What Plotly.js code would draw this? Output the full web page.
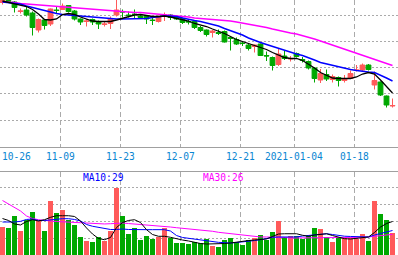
<!DOCTYPE html>
<html>
<head>
<meta charset="utf-8">
<script src="https://cdn.plot.ly/plotly-3.0.1.min.js"></script>
<style>
html,body{margin:0;padding:0;background:#fff;}
#chart{width:398px;height:255px;}
</style>
</head>
<body>
<div id="chart"></div>
<script>
// ---- data ----
const tickLabels = ['10-26','11-09','11-23','12-07','12-21','2021-01-04','01-18'];
const tickIdx = [0,10,20,30,40,49,59];

const open  = [11.95,11.99,11.96,11.77,11.80,11.74,11.40,11.60,11.52,11.80,11.81,11.89,11.78,11.62,11.57,11.61,11.57,11.51,11.53,11.70,
               11.77,11.70,11.72,11.68,11.67,11.60,11.57,11.69,11.70,11.67,11.63,11.57,11.57,11.45,11.40,11.35,11.35,11.37,11.25,11.21,
               11.14,11.10,11.07,11.12,10.89,10.85,10.71,10.88,10.82,10.93,10.81,10.77,10.64,10.40,10.51,10.41,10.45,10.39,10.43,10.59,
               10.60,10.70,10.30,10.36,10.08,9.88];
const high  = [12.04,12.02,11.98,11.83,11.88,11.77,11.63,11.62,11.83,11.88,11.93,11.90,11.80,11.63,11.62,11.63,11.59,11.57,11.67,12.02,
               11.81,11.77,11.81,11.71,11.68,11.67,11.69,11.75,11.72,11.68,11.65,11.61,11.59,11.48,11.41,11.40,11.41,11.39,11.26,11.25,
               11.17,11.12,11.11,11.13,10.97,10.87,11.03,10.98,10.88,10.95,10.86,10.79,10.65,10.62,10.61,10.51,10.47,10.50,10.59,10.70,
               10.73,10.72,10.57,10.37,10.09,10.03];
const low   = [11.91,11.94,11.75,11.73,11.67,11.29,11.35,11.41,11.48,11.73,11.80,11.75,11.59,11.50,11.47,11.50,11.42,11.47,11.42,11.67,
               11.65,11.65,11.63,11.63,11.52,11.50,11.55,11.58,11.60,11.60,11.52,11.51,11.42,11.36,11.27,11.25,11.30,11.15,10.99,11.10,
               11.08,10.99,10.95,10.88,10.78,10.59,10.68,10.80,10.77,10.85,10.75,10.61,10.35,10.34,10.38,10.35,10.27,10.35,10.42,10.57,
               10.58,10.59,10.21,10.08,9.85,9.85];
const close = [11.99,11.97,11.85,11.78,11.70,11.45,11.61,11.49,11.82,11.79,11.88,11.77,11.62,11.56,11.58,11.56,11.52,11.52,11.62,11.80,
               11.76,11.69,11.71,11.65,11.62,11.59,11.67,11.70,11.65,11.62,11.55,11.56,11.45,11.39,11.31,11.38,11.33,11.16,11.23,11.12,
               11.13,11.03,11.10,10.89,10.88,10.69,10.92,10.83,10.83,10.87,10.79,10.64,10.43,10.53,10.42,10.47,10.39,10.43,10.53,10.60,
               10.70,10.61,10.39,10.10,9.90,9.89];

const ma5  = [11.98,11.95,11.93,11.90,11.87,11.81,11.72,11.61,11.60,11.62,11.71,11.73,11.71,11.66,11.62,11.58,11.57,11.57,11.57,11.60,
              11.63,11.67,11.70,11.71,11.69,11.67,11.67,11.68,11.66,11.63,11.61,11.58,11.53,11.50,11.47,11.42,11.38,11.33,11.27,11.21,
              11.17,11.13,11.10,11.06,11.01,10.95,10.90,10.85,10.83,10.83,10.79,10.72,10.64,10.55,10.49,10.44,10.43,10.43,10.43,10.46,
              10.52,10.55,10.52,10.40,10.26,10.14];
const ma10 = [11.96,11.95,11.93,11.92,11.88,11.85,11.82,11.79,11.75,11.73,11.71,11.70,11.68,11.67,11.67,11.66,11.65,11.64,11.63,11.62,
              11.62,11.62,11.62,11.63,11.63,11.65,11.67,11.68,11.68,11.67,11.64,11.61,11.59,11.57,11.54,11.52,11.48,11.43,11.39,11.35,
              11.30,11.24,11.19,11.15,11.11,11.07,11.03,11.00,10.96,10.92,10.89,10.85,10.80,10.75,10.72,10.69,10.67,10.64,10.61,10.59,
              10.57,10.56,10.55,10.50,10.44,10.38];
const ma30 = [11.96,11.96,11.95,11.93,11.92,11.91,11.90,11.90,11.89,11.88,11.87,11.86,11.85,11.83,11.82,11.81,11.80,11.79,11.78,11.78,
              11.77,11.76,11.75,11.75,11.74,11.73,11.71,11.70,11.70,11.69,11.67,11.66,11.64,11.63,11.62,11.62,11.61,11.60,11.58,11.56,
              11.54,11.52,11.50,11.48,11.45,11.42,11.39,11.37,11.34,11.32,11.29,11.26,11.22,11.18,11.14,11.10,11.06,11.02,10.97,10.93,
              10.90,10.86,10.82,10.78,10.73,10.69];

const volume = [33.5,32.4,46.5,28.8,42.0,51.5,41.0,29.2,64.0,50.0,53.5,42.0,36.0,21.8,17.0,15.9,21.8,17.4,29.2,79.8,
                46.5,25.3,32.4,18.2,23.0,19.4,21.8,32.4,20.6,14.7,14.7,13.5,15.9,14.4,19.4,11.2,10.0,18.6,20.6,15.9,
                12.4,18.6,20.6,24.1,18.6,27.6,41.0,21.8,22.6,22.6,19.4,23.3,32.4,31.2,21.8,15.9,21.8,20.6,20.6,19.4,
                25.3,17.4,64.0,48.8,41.8,26.5];
const volMa5  = [43.5,41.2,37.1,35.9,40.0,42.1,40.6,42.1,44.9,46.8,46.8,46.8,45.9,40.6,32.4,25.3,20.0,18.6,21.2,32.9,
                 38.8,41.2,42.1,38.8,30.4,24.7,22.6,22.6,21.4,19.4,18.2,17.1,15.3,14.1,13.5,13.5,13.5,14.1,14.7,15.9,
                 17.1,17.6,18.2,18.6,19.4,22.4,25.3,25.6,25.6,25.6,23.8,22.6,24.1,24.9,25.6,23.5,21.4,19.8,19.4,20.0,
                 20.6,21.8,27.1,33.5,37.6,40.0];
const volMa10 = [39.4,39.1,39.4,40.2,42.4,42.9,41.2,41.2,42.0,42.4,43.3,43.3,42.4,40.6,36.5,34.4,33.2,31.4,30.6,30.6,
                 31.2,30.6,30.8,30.6,30.4,30.4,30.4,30.4,28.8,23.5,21.2,20.2,19.8,18.5,17.4,16.5,15.5,15.1,14.7,15.3,
                 15.9,16.5,17.6,18.6,20.0,21.4,21.8,21.8,21.8,21.8,22.9,23.5,24.5,25.3,25.6,24.7,23.3,22.7,22.4,22.1,
                 21.8,21.8,24.1,25.9,27.6,29.4];
const volMa30 = [64.7,60.6,55.9,52.4,46.5,43.5,42.1,40.9,40.6,40.0,39.6,39.4,39.1,38.6,38.2,37.6,37.1,37.1,37.4,37.9,
                 38.2,37.6,37.1,36.5,35.9,35.5,34.9,34.4,33.5,32.7,32.0,31.5,31.2,30.6,29.6,28.5,27.3,26.5,25.3,24.5,
                 23.5,22.6,22.1,21.8,21.8,21.8,21.8,21.2,20.6,20.6,20.6,20.6,20.6,20.6,20.6,20.6,20.6,20.6,20.6,20.9,
                 21.4,21.8,22.6,23.3,24.1,24.9];
const volMa10Label = 29;
const volMa30Label = 26;

// ---- styling ----
const UP = '#ff5a5a', DOWN = '#00a800';
const idx = open.map((_, i) => i);
const W = 398, H = 255;
const xRange = [-0.4167, 65.9167];

const traces = [
  {type:'candlestick', x: idx, open, high, low, close, xaxis:'x', yaxis:'y',
   increasing:{line:{color:UP, width:1}, fillcolor:UP},
   decreasing:{line:{color:DOWN, width:1}, fillcolor:DOWN},
   whiskerwidth:0, hoverinfo:'skip', showlegend:false},
  {type:'scatter', mode:'lines', x: idx, y: ma30, line:{color:'#ff00ff', width:1.5}, xaxis:'x', yaxis:'y', showlegend:false, hoverinfo:'skip'},
  {type:'scatter', mode:'lines', x: idx, y: ma10, line:{color:'#0000ff', width:1.5}, xaxis:'x', yaxis:'y', showlegend:false, hoverinfo:'skip'},
  {type:'scatter', mode:'lines', x: idx, y: ma5,  line:{color:'#000000', width:1.3}, xaxis:'x', yaxis:'y', showlegend:false, hoverinfo:'skip'},
  {type:'bar', x: idx, y: volume, width: 5/6, xaxis:'x', yaxis:'y2',
   marker:{color: idx.map(i => close[i] > open[i] ? UP : DOWN), line:{width:0}}, showlegend:false, hoverinfo:'skip'},
  {type:'scatter', mode:'lines', x: idx, y: volMa30, line:{color:'#ff00ff', width:1}, xaxis:'x', yaxis:'y2', showlegend:false, hoverinfo:'skip'},
  {type:'scatter', mode:'lines', x: idx, y: volMa10, line:{color:'#0000ff', width:1}, xaxis:'x', yaxis:'y2', showlegend:false, hoverinfo:'skip'},
  {type:'scatter', mode:'lines', x: idx, y: volMa5,  line:{color:'#000000', width:1}, xaxis:'x', yaxis:'y2', showlegend:false, hoverinfo:'skip'}
];

const pyPaper = py => 1 - py / H;

const annotations = tickLabels.map((t, i) => ({
  text: t, xref:'x', yref:'paper',
  x: i === 0 ? xRange[0] : tickIdx[i] - 0.37,
  xanchor: i === 0 ? 'left' : 'center',
  y: pyPaper(156.5), yanchor:'middle', showarrow:false,
  font:{family:'DejaVu Sans Mono, monospace', size:9.6, color:'#0a86d2'}
}));
annotations.push({text:'MA10:' + volMa10Label, xref:'paper', yref:'paper', x:103.5/W, y:pyPaper(177), xanchor:'center', yanchor:'middle', showarrow:false,
  font:{family:'DejaVu Sans Mono, monospace', size:9.6, color:'#0000ff'}});
annotations.push({text:'MA30:' + volMa30Label, xref:'paper', yref:'paper', x:223.5/W, y:pyPaper(177), xanchor:'center', yanchor:'middle', showarrow:false,
  font:{family:'DejaVu Sans Mono, monospace', size:9.6, color:'#ff00ff'}});

const layout = {
  width: W, height: H,
  margin:{l:0, r:0, t:0, b:0, pad:0},
  paper_bgcolor:'#ffffff', plot_bgcolor:'#ffffff',
  showlegend:false,
  boxgap:0.2, boxgroupgap:0,
  bargap:0,
  xaxis:{range:xRange, domain:[0,1], anchor:'y2', showticklabels:false, ticks:'',
         tickmode:'array', tickvals: tickIdx.map(v => v - 0.37),
         showgrid:true, gridcolor:'#aaaaaa', gridwidth:1, griddash:'5px,3px',
         zeroline:false, showline:false, rangeslider:{visible:false}, fixedrange:true},
  yaxis:{domain:[pyPaper(147), 1], range:[12 - 147/50, 12], showticklabels:false, ticks:'',
         tick0:11.70, dtick:0.526, showgrid:true, gridcolor:'#aaaaaa', gridwidth:1, griddash:'2px,2px',
         zeroline:false, showline:false, fixedrange:true},
  yaxis2:{domain:[0, pyPaper(171.5)], range:[0.59, 98.82], showticklabels:false, ticks:'',
          tick0:0, dtick:20, showgrid:true, gridcolor:'#aaaaaa', gridwidth:1, griddash:'2px,2px',
          zeroline:false, showline:false, fixedrange:true},
  shapes:[
    {type:'line', xref:'paper', yref:'paper', x0:0, x1:1, y0:pyPaper(147.5), y1:pyPaper(147.5), line:{color:'#a0a0a0', width:1}},
    {type:'line', xref:'paper', yref:'paper', x0:0, x1:1, y0:pyPaper(171.5), y1:pyPaper(171.5), line:{color:'#a0a0a0', width:1}}
  ],
  annotations
};

Plotly.newPlot('chart', traces, layout, {staticPlot:true, displayModeBar:false});
</script>
</body>
</html>
